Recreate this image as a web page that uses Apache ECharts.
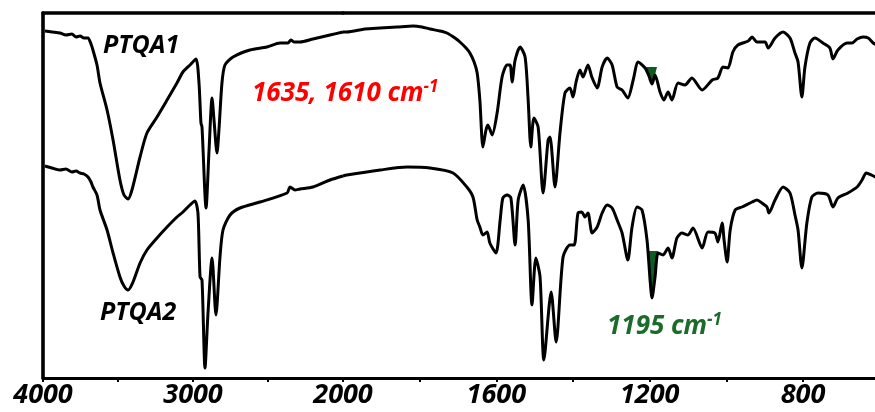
<!DOCTYPE html>
<html><head><meta charset="utf-8">
<script src="https://cdn.jsdelivr.net/npm/echarts@6/dist/echarts.min.js"></script>
<style>html,body{margin:0;padding:0;background:#fff}#c{width:875px;height:412px}</style>
</head><body><div id="c"></div>
<script>
// ---- Data (wavenumber in cm^-1, transmittance in offset arbitrary units) ----
const ptqa1Wavenumber = [3987,3940,3887,3847,3807,3780,3753,3727,3700,3680,3667,3640,3620,3573,3533,3487,3460,3433,3407,3353,3307,3240,3173,3107,3067,3020,2980,2960,2947,2940,2913,2893,2873,2860,2840,2827,2807,2787,2733,2620,2507,2420,2367,2347,2327,2287,2200,2087,2000,
1990,1943,1903,1859,1817,1794,1773,1747,1729,1708,1695,1679,1669,1658,1650,1643,1635,1627,1622,1611,1598,1585,1572,1564,1559,1551,1538,1525,1517,1510,1502,1491,1478,1465,1460,1447,1434,1421,1408,1400,1392,1382,1374,1361,1351,1337,1324,1311,1298,1285,1272,1257,1243,1230,1212,1202,1194,1186,1173,1163,1152,1142,1126,1108,1090,1063,1037,1022,1009,996,983,970,943,933,920,899,891,873,852,834,821,813,803,795,782,769,748,730,722,709,685,672,659,643,630,617,607];
const ptqa1Signal = [69.4,69.2,69.0,68.6,68.8,68.2,68.4,68.0,68.0,66.8,65.6,62.6,59.0,53.6,47.6,39.6,36.6,35.8,37.6,44.2,49.0,52.2,55.6,59.0,61.2,62.6,63.8,59.0,51.0,50.2,34.0,45.6,56.0,51.6,45.0,49.6,59.0,62.6,64.2,65.6,66.2,67.0,67.0,67.6,67.2,67.2,67.8,68.6,69.2,
69.2,69.8,70.0,70.2,70.4,70.2,69.8,69.4,69.0,68.0,67.2,66.0,65.0,63.2,61.0,55.6,46.2,49.6,50.6,48.6,53.0,60.2,62.6,62.6,59.2,63.6,66.2,64.2,55.6,46.2,52.0,50.2,37.0,47.6,48.2,38.2,49.0,57.0,58.0,56.2,59.2,61.6,60.2,62.6,60.2,58.0,62.2,64.0,62.6,58.2,57.6,56.0,59.6,63.2,62.0,60.4,58.8,60.6,57.2,55.6,57.2,55.6,59.0,58.6,60.0,57.6,59.6,60.0,62.2,62.0,65.2,66.6,67.4,68.2,67.2,67.2,66.0,68.0,69.2,68.0,65.0,63.2,56.2,62.2,67.0,68.0,67.0,66.0,63.8,65.6,67.0,67.0,67.8,68.2,68.0,67.0,66.6];

const ptqa2Wavenumber = [3987,3940,3887,3847,3807,3780,3753,3727,3700,3680,3667,3640,3620,3573,3533,3487,3460,3433,3400,3353,3307,3240,3173,3107,3067,3020,2987,2967,2953,2940,2920,2900,2873,2847,2820,2800,2753,2687,2553,2373,2353,2320,2287,2200,2087,2000,
1990,1903,1833,1773,1713,1677,1661,1650,1643,1635,1624,1617,1601,1590,1583,1572,1562,1551,1543,1530,1517,1507,1497,1486,1476,1457,1444,1426,1408,1397,1387,1377,1369,1361,1350,1337,1324,1311,1298,1285,1272,1257,1246,1233,1220,1207,1199,1194,1186,1178,1165,1152,1142,1129,1116,1100,1087,1063,1048,1030,1022,1011,1006,998,990,977,959,933,920,907,894,889,873,852,834,821,813,803,790,777,761,735,722,709,683,659,646,635,622,607];
const ptqa2Signal = [42.4,42.0,41.6,41.8,41.2,41.4,41.0,40.8,40.2,39.2,38.2,36.6,33.6,29.6,25.0,20.2,18.4,17.6,19.2,23.0,25.6,28.0,30.2,32.2,33.2,34.6,35.4,33.0,20.2,19.6,2.0,13.0,24.0,12.6,24.2,29.6,32.6,34.0,35.2,37.0,38.2,37.6,37.8,38.2,39.6,40.4,
40.6,41.6,42.2,42.0,41.0,38.2,36.2,31.6,30.2,28.6,29.2,27.0,25.0,31.6,36.0,36.6,36.0,26.6,35.6,38.6,31.6,14.6,24.0,20.2,3.6,17.2,7.2,24.2,26.6,26.6,33.0,33.2,32.2,33.0,29.0,30.2,33.0,34.6,34.0,31.6,29.0,23.6,30.2,34.2,33.6,27.6,19.6,16.0,20.2,25.0,24.6,26.0,24.0,28.0,29.0,28.6,30.0,26.0,29.2,29.0,27.2,31.0,27.6,23.2,29.6,33.6,34.2,35.2,35.6,35.0,34.2,33.0,35.6,38.2,37.0,32.6,29.6,22.0,31.0,36.2,37.0,36.6,34.2,36.0,37.0,38.2,39.6,41.0,40.6,40.0];

// tick labels of the split wavenumber axis
const highRangeTickLabels = [4000, 3000, 2000];
const lowRangeTickLabels = [1600, 1200, 800];

// shaded 1195 cm-1 band: [from, to] wavenumber and baseline level for each spectrum
const bandPtqa1 = [1210, 1181];
const bandPtqa1Base = 62.2;
const bandPtqa2 = [1205, 1178];
const bandPtqa2Base = 25.4;

// ---- Build ----
function part(w, v, high) {
  const out = [];
  for (let i = 0; i < w.length; i++) {
    if (high ? w[i] >= 2000 : w[i] <= 2000) out.push([w[i], v[i]]);
  }
  return out;
}
function bandPolygon(w, v, band, base) {
  const pts = [[band[0], base]];
  for (let i = 0; i < w.length; i++) {
    if (w[i] < band[0] && w[i] > band[1]) pts.push([w[i], Math.min(v[i], base)]);
  }
  pts.push([band[1], base]);
  return pts;
}
const poly1 = bandPolygon(ptqa1Wavenumber, ptqa1Signal, bandPtqa1, bandPtqa1Base);
const poly2 = bandPolygon(ptqa2Wavenumber, ptqa2Signal, bandPtqa2, bandPtqa2Base);

const FONT = '"Open Sans", "Noto Sans", sans-serif';
const labelStyle = {
  color: '#000', fontFamily: FONT, fontSize: 27, fontWeight: 'bold', fontStyle: 'italic',
  margin: 4, showMinLabel: true, showMaxLabel: true
};
const axisLineStyle = { color: '#000', width: 3 };
const frameLineStyle = { color: '#000', width: 3.6 };

const chart = echarts.init(document.getElementById('c'), null, { renderer: 'canvas' });

function lineSeries(data, idx) {
  return {
    type: 'line', xAxisIndex: idx, yAxisIndex: idx, data: data, showSymbol: false, symbol: 'none',
    smooth: 0.25,
    lineStyle: { color: '#000', width: 3, join: 'round' }, z: 3, animation: false, silent: true
  };
}
function fillSeries(poly) {
  return {
    type: 'custom', xAxisIndex: 1, yAxisIndex: 1, data: poly, z: 2, silent: true, animation: false,
    renderItem: function (params, api) {
      if (params.dataIndex !== 0) return null;
      const pts = poly.map(p => api.coord(p));
      return { type: 'polygon', shape: { points: pts }, style: { fill: '#0e5c20' } };
    }
  };
}

chart.setOption({
  animation: false,
  grid: [
    { left: 43, top: 13, width: 300, height: 365, containLabel: false, outerBoundsMode: 'none' },
    { left: 343, top: 13, width: 536.7, height: 365, containLabel: false, outerBoundsMode: 'none' }
  ],
  xAxis: [
    { gridIndex: 0, type: 'value', min: 2000, max: 4000, interval: 500, inverse: true, position: 'bottom',
      axisLine: { onZero: false, lineStyle: axisLineStyle },
      axisTick: { length: 4, lineStyle: { color: '#000', width: 2 } },
      axisLabel: Object.assign({}, labelStyle, { formatter: v => highRangeTickLabels.includes(v) ? String(v) : '' }),
      splitLine: { show: false } },
    { gridIndex: 1, type: 'value', min: 600, max: 2000, interval: 200, inverse: true, position: 'bottom',
      axisLine: { onZero: false, lineStyle: axisLineStyle },
      axisTick: { length: 4, lineStyle: { color: '#000', width: 2 } },
      axisLabel: Object.assign({}, labelStyle, { formatter: v => lowRangeTickLabels.includes(v) ? String(v) : '' }),
      splitLine: { show: false } },
    { gridIndex: 0, type: 'value', min: 2000, max: 4000, inverse: true, position: 'top',
      axisLine: { onZero: false, lineStyle: frameLineStyle }, axisTick: { show: false }, axisLabel: { show: false }, splitLine: { show: false } },
    { gridIndex: 1, type: 'value', min: 600, max: 2000, inverse: true, position: 'top',
      axisLine: { onZero: false, lineStyle: frameLineStyle }, axisTick: { show: false }, axisLabel: { show: false }, splitLine: { show: false } }
  ],
  yAxis: [
    { gridIndex: 0, type: 'value', min: 0, max: 73,
      axisLine: { show: true, onZero: false, lineStyle: frameLineStyle }, axisTick: { show: false }, axisLabel: { show: false }, splitLine: { show: false } },
    { gridIndex: 1, type: 'value', min: 0, max: 73, show: false, splitLine: { show: false } }
  ],
  series: [
    fillSeries(poly1),
    fillSeries(poly2),
    lineSeries(part(ptqa1Wavenumber, ptqa1Signal, true), 0),
    lineSeries(part(ptqa1Wavenumber, ptqa1Signal, false), 1),
    lineSeries(part(ptqa2Wavenumber, ptqa2Signal, true), 0),
    lineSeries(part(ptqa2Wavenumber, ptqa2Signal, false), 1)
  ],
  graphic: [
    { type: 'text', x: 103, y: 46, silent: true,
      style: { text: 'PTQA1', fill: '#000', fontFamily: FONT, fontSize: 25, fontWeight: 'bold', fontStyle: 'italic', verticalAlign: 'middle' } },
    { type: 'text', x: 100, y: 313, silent: true,
      style: { text: 'PTQA2', fill: '#000', fontFamily: FONT, fontSize: 25, fontWeight: 'bold', fontStyle: 'italic', verticalAlign: 'middle' } },
    { type: 'text', x: 252, y: 94, silent: true,
      style: { text: '{m|1635, 1610 cm}{s|-1}', fill: '#ff0000', verticalAlign: 'middle',
        rich: {
          m: { fill: '#ff0000', fontFamily: FONT, fontSize: 26, fontWeight: 'bold', fontStyle: 'italic', lineHeight: 30 },
          s: { fill: '#ff0000', fontFamily: FONT, fontSize: 17, fontWeight: 'bold', fontStyle: 'italic', lineHeight: 18, verticalAlign: 'top' }
        } } },
    { type: 'text', x: 607, y: 327, silent: true,
      style: { text: '{m|1195 cm}{s|-1}', fill: '#1b6b2b', verticalAlign: 'middle',
        rich: {
          m: { fill: '#1b6b2b', fontFamily: FONT, fontSize: 26, fontWeight: 'bold', fontStyle: 'italic', lineHeight: 30 },
          s: { fill: '#1b6b2b', fontFamily: FONT, fontSize: 17, fontWeight: 'bold', fontStyle: 'italic', lineHeight: 18, verticalAlign: 'top' }
        } } }
  ]
});
</script>
</body></html>
